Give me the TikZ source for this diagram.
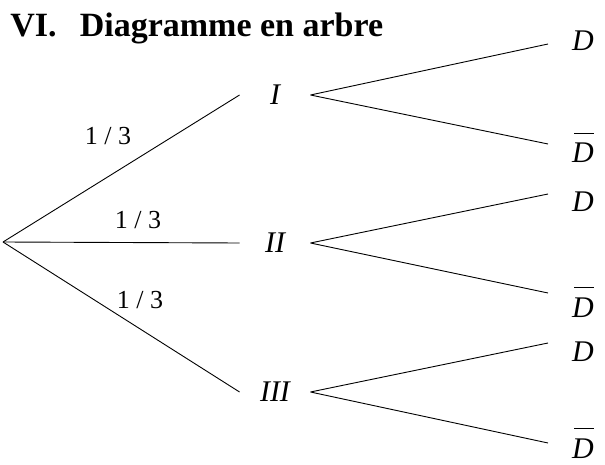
\documentclass[tikz,border=0pt]{standalone}
\usepackage{fontspec}
\setmainfont{Liberation Serif}

\newcommand{\Dbar}{\rlap{\kern2pt\raisebox{29pt}{\rule{20pt}{1.2pt}}}\textit{D}}

\begin{document}
\begin{tikzpicture}[x=1pt, y=-1pt, line width=0.9pt,
    lbl/.style={font=\fontsize{30}{36}\selectfont\itshape, inner sep=0pt},
    branch/.style={lbl, minimum width=70pt},
    prob/.style={font=\fontsize{26}{30}\selectfont, inner sep=0pt}]
    \useasboundingbox (0,0) rectangle (605,465);

    \node[anchor=base west, inner sep=0pt, font=\fontsize{34}{40}\selectfont\bfseries] (title) at (10,37) {VI.\hspace{0.68em}Diagramme en arbre};

    % Premier niveau
    \coordinate (root) at (3,242);
    \node[branch] (b1) at (275,95) {I};
    \node[branch] (b2) at (275,243) {II};
    \node[branch] (b3) at (275,392) {III};
    \foreach \b in {b1,b2,b3} {\draw (root) -- (\b.west);}

    \node[prob] (p1) at (108,136) {1 / 3};
    \node[prob] (p2) at (138,220) {1 / 3};
    \node[prob] (p3) at (140,300) {1 / 3};

    % Second niveau
    \coordinate (e1) at (548,44);
    \coordinate (e2) at (548,144);
    \coordinate (e3) at (548,194);
    \coordinate (e4) at (548,293);
    \coordinate (e5) at (548,343);
    \coordinate (e6) at (548,443);
    \foreach \b/\u/\l in {b1/e1/e2, b2/e3/e4, b3/e5/e6} {\draw (\b.east) -- (\u) (\b.east) -- (\l);}

    \node[lbl, anchor=base] (d1) at (583,51) {D};
    \node[lbl, anchor=base] (d2) at (583,163) {\Dbar};
    \node[lbl, anchor=base] (d3) at (583,212) {D};
    \node[lbl, anchor=base] (d4) at (583,317) {\Dbar};
    \node[lbl, anchor=base] (d5) at (583,361) {D};
    \node[lbl, anchor=base] (d6) at (583,458) {\Dbar};
\end{tikzpicture}
\end{document}
